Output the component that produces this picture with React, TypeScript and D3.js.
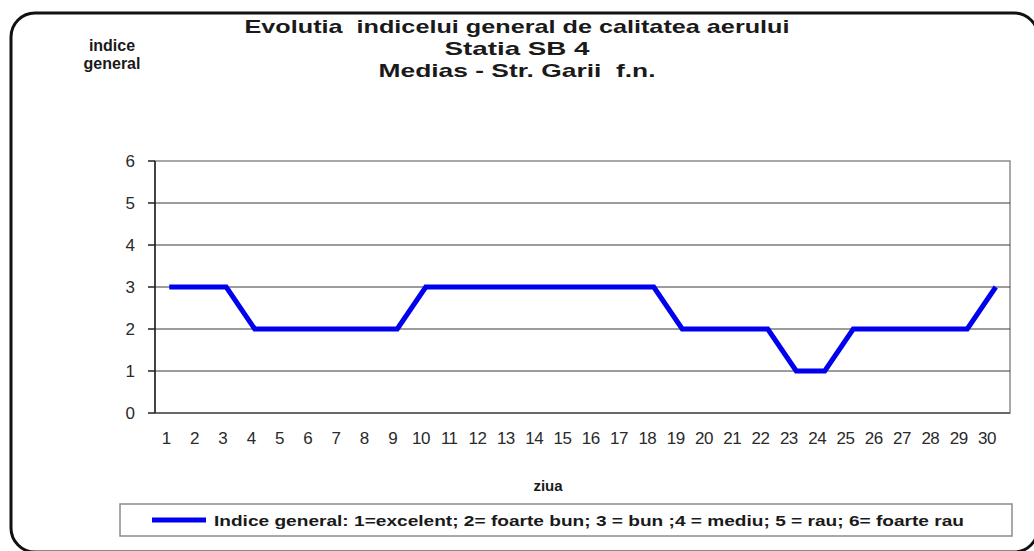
import React from "react";
import * as d3 from "d3";

const width = 1034;
const height = 551;

// plot area
const margin = { top: 161, right: 24, bottom: 138, left: 155 };

const days = [
  "1", "2", "3", "4", "5", "6", "7", "8", "9", "10",
  "11", "12", "13", "14", "15", "16", "17", "18", "19", "20",
  "21", "22", "23", "24", "25", "26", "27", "28", "29", "30",
];
const indice = [3, 3, 3, 2, 2, 2, 2, 2, 2, 3, 3, 3, 3, 3, 3, 3, 3, 3, 2, 2, 2, 2, 1, 1, 2, 2, 2, 2, 2, 3];
const yTicks = [0, 1, 2, 3, 4, 5, 6];

const titleLines = [
  "Evolutia  indicelui general de calitatea aerului",
  "Statia SB 4",
  "Medias - Str. Garii  f.n.",
];
const titleWidths = [545, 145, 277]; // the picture is stretched sideways
const yAxisLabel = ["indice", "general"];
const xAxisLabel = "ziua";
const legendText =
  "Indice general: 1=excelent; 2= foarte bun; 3 = bun ;4 = mediu; 5 = rau; 6= foarte rau";

const font = "'Liberation Sans', Arial, sans-serif";
const lineColor = "#0000ee";

export default function App() {
  const innerWidth = width - margin.left - margin.right;
  const innerHeight = height - margin.top - margin.bottom;

  const xScale = d3.scaleBand<string>().domain(days).range([0, innerWidth]);
  const yScale = d3.scaleLinear().domain([0, 6]).range([innerHeight, 0]);
  const xPos = (d: string) => (xScale(d) ?? 0) + xScale.bandwidth() / 2;

  const lineGen = d3
    .line<number>()
    .x((_, i) => xPos(days[i]))
    .y((d) => yScale(d));

  return (
    <svg
      width={width}
      height={height}
      style={{ position: "absolute", left: 0, top: 0, background: "#fff" }}
      fontFamily={font}
    >
      {/* outer chart border, right and bottom edges run off the picture */}
      <rect x={11} y={13} width={1027} height={539} rx={24} fill="#fff" stroke="#111" strokeWidth={3} />

      {titleLines.map((t, i) => (
        <text
          key={t}
          x={517}
          y={33 + i * 22}
          textAnchor="middle"
          fontSize={19}
          fontWeight="bold"
          fill="#1a1a1a"
          textLength={titleWidths[i]}
          lengthAdjust="spacingAndGlyphs"
          style={{ whiteSpace: "pre" }}
        >
          {t}
        </text>
      ))}

      {yAxisLabel.map((t, i) => (
        <text key={t} x={112} y={51 + i * 18} textAnchor="middle" fontSize={16} fontWeight="bold" fill="#1a1a1a">
          {t}
        </text>
      ))}

      <g transform={`translate(${margin.left},${margin.top})`}>
        {/* plot area frame */}
        <rect x={0} y={0} width={innerWidth} height={innerHeight} fill="none" stroke="#8c8c8c" strokeWidth={1.5} />
        {yTicks.slice(1, -1).map((t) => (
          <line key={t} x1={0} x2={innerWidth} y1={yScale(t)} y2={yScale(t)} stroke="#3a3a3a" strokeWidth={1} />
        ))}
        <line x1={0} x2={innerWidth} y1={innerHeight} y2={innerHeight} stroke="#555" strokeWidth={1.5} />
        <line x1={0} x2={0} y1={0} y2={innerHeight} stroke="#222" strokeWidth={1.5} />
        {yTicks.map((t) => (
          <g key={t} transform={`translate(0,${yScale(t)})`}>
            <line x1={-7} x2={0} stroke="#222" strokeWidth={1.5} />
            <text x={-20} dy="0.35em" textAnchor="end" fontSize={17} fill="#2a2a2a">
              {t}
            </text>
          </g>
        ))}
        {days.map((d, i) => (
          <text
            key={d}
            x={xPos(d) - 3 - i * 0.2}
            y={innerHeight + 31}
            textAnchor="middle"
            fontSize={17}
            fill="#2a2a2a"
            letterSpacing={-0.5}
          >
            {d}
          </text>
        ))}

        <path d={lineGen(indice) ?? ""} fill="none" stroke={lineColor} strokeWidth={5} strokeLinejoin="miter" />
      </g>

      <text x={548} y={491} textAnchor="middle" fontSize={15} fontWeight="bold" fill="#1a1a1a">
        {xAxisLabel}
      </text>

      {/* legend */}
      <rect x={120} y={504} width={892} height={32} fill="#fff" stroke="#8c8c8c" strokeWidth={1.5} />
      <line x1={152} x2={206} y1={520} y2={520} stroke={lineColor} strokeWidth={5} />
      <text x={214} y={525.5} fontSize={15} fontWeight="bold" fill="#1a1a1a" textLength={750} lengthAdjust="spacingAndGlyphs">
        {legendText}
      </text>
    </svg>
  );
}
